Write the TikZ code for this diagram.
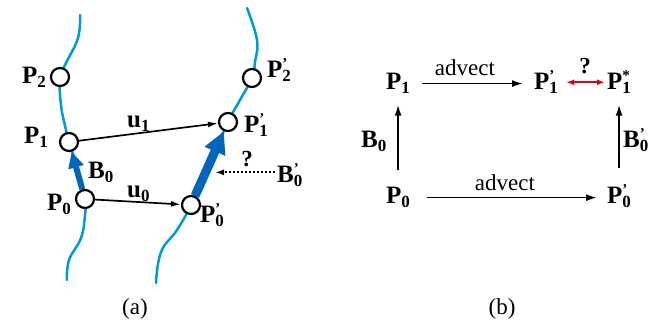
\documentclass[tikz,border=0pt]{standalone}
\usepackage{fontspec}
\setmainfont{Liberation Serif}
\usetikzlibrary{arrows.meta,backgrounds}
\definecolor{curveblue}{RGB}{0,153,221}
\definecolor{arrowblue}{RGB}{0,102,187}
\definecolor{qred}{RGB}{228,0,27}
\newcommand\lbl[3]{\textbf{#1}\makebox[0pt][l]{\raisebox{9pt}{\fontsize{15}{15}\selectfont\bfseries #2}}\raisebox{-3.5pt}{\fontsize{17}{17}\selectfont\bfseries #3}}
\begin{document}
\begin{tikzpicture}[x=1pt,y=-1pt,
  lab/.style={inner sep=0pt, anchor=base west, font=\fontsize{25}{27}\selectfont\bfseries},
  txt/.style={inner sep=0pt, anchor=base, font=\fontsize{23}{25}\selectfont},
  qmark/.style={inner sep=0pt, anchor=base, font=\fontsize{23}{25}\selectfont\bfseries},
  pt/.style={circle, draw, fill=white, line width=2.2pt, minimum size=18pt, inner sep=0pt},
  curve/.style={curveblue, line width=2.5pt, line cap=round},
  thinarr/.style={line width=1.7pt, -{Latex[length=10pt,width=6pt]}},
  thickB/.style={arrowblue, line width=6pt, -{Triangle[length=16pt,width=15pt]}},
  thickBp/.style={arrowblue, line width=9pt, -{Triangle[length=22pt,width=21pt]}},
  dotarr/.style={line width=1.8pt, dash pattern=on 2pt off 2pt, -{Latex[length=9pt,width=6pt]}},
  barr/.style={line width=1.7pt, -{Latex[length=11pt,width=7pt]}},
  redarr/.style={qred, line width=2pt, {Latex[length=8pt,width=6pt]}-{Latex[length=8pt,width=6pt]}}]
\useasboundingbox (0,0) rectangle (651,323);

% ---------- (a) ----------
\node[pt] (a2) at (60,77) {};
\node[pt] (a1) at (69,142) {};
\node[pt] (a0) at (85,199) {};
\node[pt] (b2) at (252,78) {};
\node[pt] (b1) at (228,122) {};
\node[pt] (b0) at (191,205) {};

\begin{scope}[on background layer]
  \draw[curve] plot[smooth,tension=0.7] coordinates {(80,15) (78,38) (66,63) (a2.center) (61,105) (66,130) (a1.center) (78,170) (a0.center) (85,215) (81,238) (69,260) (67,280)};
  \draw[curve] plot[smooth,tension=0.7] coordinates {(247,8) (257,40) (255,62) (b2.center) (240,100) (b1.center) (210,163) (b0.center) (177,230) (161,252) (156,283)};
  \draw[thickB] (a0) -- (a1);
  \draw[thickBp] (b0) -- (b1);
\end{scope}

\draw[thinarr] (a1) -- (b1);
\draw[thinarr] (a0) -- (b0);

\node[lab] (lP2) at (22,84) {\lbl{P}{}{2}};
\node[lab] (lP2p) at (267,78) {\lbl{P}{'}{2}};
\node[lab] (lP1) at (24,144) {\lbl{P}{}{1}};
\node[lab] (lu1) at (127,128) {\lbl{u}{}{1}};
\node[lab] (lP1p) at (244,133) {\lbl{P}{'}{1}};
\node[lab] (lB0) at (88,179) {\lbl{B}{}{0}};
\node[lab] (lP0) at (47,211) {\lbl{P}{}{0}};
\node[lab] (lu0) at (127,198) {\lbl{u}{}{0}};
\node[lab] (lP0p) at (200,223) {\lbl{P}{'}{0}};
\node[qmark] (qa) at (247,167) {?};
\node[lab] (lBp) at (277,183) {\lbl{B}{'}{0}};
\coordinate (dotend) at (215,172);
\draw[dotarr] ([xshift=-2pt,yshift=3pt]lBp.west) -- ([yshift=3pt]lBp.west -| dotend);
\node[txt] (capa) at (135,315) {(a)};

% ---------- (b) ----------
\node[lab] (P1) at (386,90) {\lbl{P}{}{1}};
\node[lab] (P1p) at (534,90) {\lbl{P}{'}{1}};
\node[lab] (P1s) at (607,90) {\lbl{P}{*}{1}};
\node[lab] (P0) at (386,204) {\lbl{P}{}{0}};
\node[lab] (P0p) at (607,204) {\lbl{P}{'}{0}};
\node[lab] (B0b) at (361,148) {\lbl{B}{}{0}};
\node[lab] (B0pb) at (623,148) {\lbl{B}{'}{0}};
\node[txt] (adv1) at (465,76) {advect};
\node[txt] (adv2) at (505,191) {advect};
\node[qmark] (qb) at (585,74) {?};
\node[txt] (capb) at (502,315) {(b)};

\draw[barr, shorten <=12pt, shorten >=11pt] (P1.east) -- (P1.east -| P1p.west);
\draw[barr, shorten <=17pt, shorten >=10pt] (P0.east) -- (P0.east -| P0p.west);
\draw[redarr, shorten <=8pt, shorten >=2pt] (P1p.east) -- (P1p.east -| P1s.west);
\draw[barr, shorten <=17pt, shorten >=11pt] (P0.north) -- (P1.south);
\draw[barr, shorten <=17pt, shorten >=11pt] (P0p.north) -- (P1s.south);
\end{tikzpicture}
\end{document}
